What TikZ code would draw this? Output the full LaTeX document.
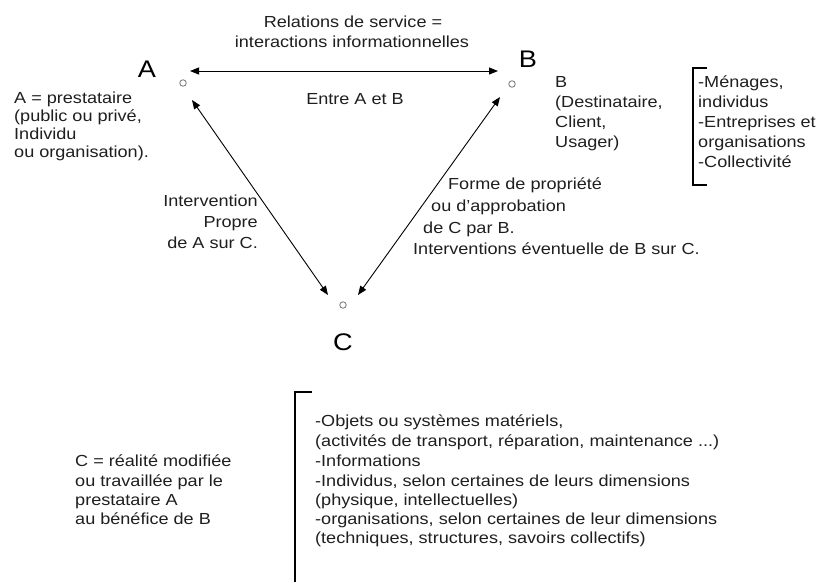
\documentclass[tikz,border=0pt]{standalone}
\usepackage{fontspec}
\setmainfont{Liberation Sans}[FakeStretch=1.13]
\usetikzlibrary{arrows.meta}

\begin{document}
\begin{tikzpicture}[x=1pt,y=-1pt,
  lbl/.style={inner sep=0pt, font=\fontsize{16}{19}\selectfont, text=black!88},
  lw/.style={lbl, anchor=base west},
  le/.style={lbl, anchor=base east},
  lc/.style={lbl, anchor=base},
  big/.style={inner sep=0pt, font=\fontsize{24}{28}\selectfont, anchor=base},
  pt/.style={circle, draw=black!55, line width=0.8pt, minimum size=6.5pt, inner sep=0pt},
  link/.style={line width=0.9pt, {Triangle[length=9pt,width=7pt]}-{Triangle[length=9pt,width=7pt]}},
  brk/.style={line width=1.1pt}
]
\useasboundingbox (0,0) rectangle (831,582);
\fill[white] (0,0) rectangle (831,582);

% the three poles
\node[pt] (cA) at (183,83) {};
\node[pt] (cB) at (512,84) {};
\node[pt] (cC) at (343,305) {};
\node[big] (nA) at (147,77) {A};
\node[big] (nB) at (528,67) {B};
\node[big] (nC) at (343,350) {C};

% arrow end points around the poles
\coordinate (ab1) at (190,71);
\coordinate (ab2) at (498,71);
\coordinate (ac1) at (192,100);
\coordinate (ac2) at (328,295);
\coordinate (bc1) at (500,97);
\coordinate (bc2) at (358,295);

\draw[link] (ab1) -- (ab2);
\draw[link] (ac1) -- (ac2);
\draw[link] (bc1) -- (bc2);

% A -- B relation
\node[lc] (rs1) at (353,27) {Relations de service =};
\node[lc] (rs2) at (352,47) {interactions informationnelles};
\node[lc] (eab) at (355,104) {Entre A et B};

% description of A
\node[lw] (a1) at (14,103) {A = prestataire};
\node[lw] (a2) at (14,121) {(public ou privé,};
\node[lw] (a3) at (14,139) {Individu};
\node[lw] (a4) at (14,157) {ou organisation).};

% description of B
\node[lw] (b1) at (555,87) {B};
\node[lw] (b2) at (555,107) {(Destinataire,};
\node[lw] (b3) at (555,127) {Client,};
\node[lw] (b4) at (555,147) {Usager)};

% kinds of B
\draw[brk] (707,68) -- (693,68) -- (693,185) -- (707,185);
\node[lw] (k1) at (698,87) {-Ménages,};
\node[lw] (k2) at (698,107) {individus};
\node[lw] (k3) at (698,127) {-Entreprises et};
\node[lw] (k4) at (698,147) {organisations};
\node[lw] (k5) at (698,167) {-Collectivité};

% A -- C relation
\node[le] (i1) at (258,206) {Intervention};
\node[le] (i2) at (258,227) {Propre};
\node[le] (i3) at (258,248) {de A sur C.};

% B -- C relation
\node[lw] (f1) at (448,189) {Forme de propriété};
\node[lw] (f2) at (431,211) {ou d'approbation};
\node[lw] (f3) at (423,233) {de C par B.};
\node[lw] (f4) at (413,254) {Interventions éventuelle de B sur C.};

% description of C
\node[lw] (c1) at (75,466) {C = réalité modifiée};
\node[lw] (c2) at (75,486) {ou travaillée par le};
\node[lw] (c3) at (75,505) {prestataire A};
\node[lw] (c4) at (75,524) {au bénéfice de B};

% kinds of C
\draw[brk] (312,392) -- (295,392) -- (295,582);
\node[lw] (o1) at (315,426) {-Objets ou systèmes matériels,};
\node[lw] (o2) at (315,446) {(activités de transport, réparation, maintenance ...)};
\node[lw] (o3) at (315,466) {-Informations};
\node[lw] (o4) at (315,486) {-Individus, selon certaines de leurs dimensions};
\node[lw] (o5) at (315,505) {(physique, intellectuelles)};
\node[lw] (o6) at (315,524) {-organisations, selon certaines de leur dimensions};
\node[lw] (o7) at (315,543) {(techniques, structures, savoirs collectifs)};
\end{tikzpicture}
\end{document}
